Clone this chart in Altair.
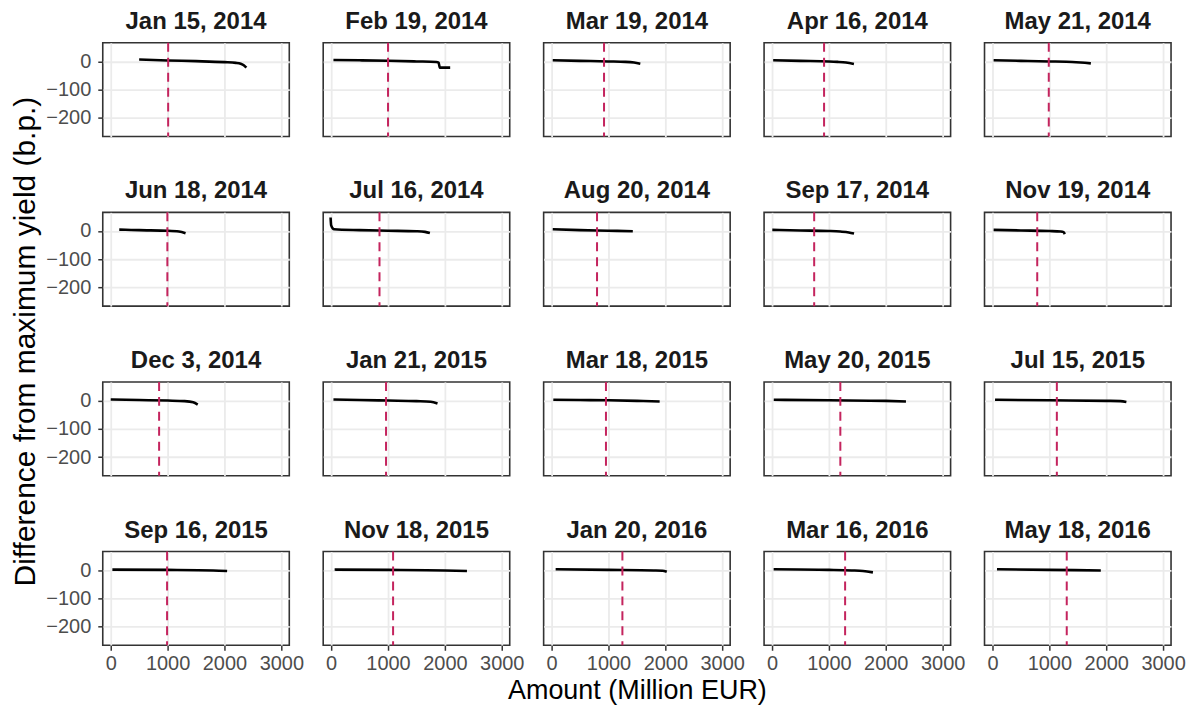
import altair as alt
import pandas as pd

dates = ["Jan 15, 2014", "Feb 19, 2014", "Mar 19, 2014", "Apr 16, 2014", "May 21, 2014",
         "Jun 18, 2014", "Jul 16, 2014", "Aug 20, 2014", "Sep 17, 2014", "Nov 19, 2014",
         "Dec 3, 2014", "Jan 21, 2015", "Mar 18, 2015", "May 20, 2015", "Jul 15, 2015",
         "Sep 16, 2015", "Nov 18, 2015", "Jan 20, 2016", "Mar 16, 2016", "May 18, 2016"]

# dashed reference amount per auction (Million EUR)
ref_amount = [1010, 1000, 922, 915, 990,
              996, 850, 799, 741, 787,
              851, 965, 956, 1201, 1132,
              991, 1089, 1245, 1285, 1306]

# amount (Million EUR) / difference from maximum yield (b.p.) per auction
p01_amount = [500, 1000, 1500, 2000, 2200, 2285, 2345, 2385]
p01_diff = [7, 3.5, 1, -2.5, -5, -8, -14, -22]
p02_amount = [40, 500, 1000, 1500, 1850, 1890, 1910, 2093]
p02_diff = [5, 4, 2.5, 0, -2, -4, -22, -22]
p03_amount = [20, 500, 1000, 1300, 1450, 1560]
p03_diff = [4, 2, 0, -1.5, -4, -8]
p04_amount = [20, 500, 1000, 1150, 1300, 1440]
p04_diff = [4, 2, 0, -1.5, -4, -9]
p05_amount = [20, 500, 1000, 1300, 1550, 1730]
p05_diff = [4, 2, 0, -1, -4, -7]
p06_amount = [150, 500, 1000, 1200, 1316]
p06_diff = [5, 3, 1, -2, -8]
p07_amount = [-10, 0, 50, 500, 1000, 1500, 1650, 1736]
p07_diff = [48, 20, 6, 3, 1, -1, -3, -7]
p08_amount = [20, 500, 1000, 1428]
p08_diff = [6, 3, 1, -1]
p09_amount = [5, 500, 1000, 1200, 1350, 1442]
p09_diff = [4, 2, 0, -2, -5, -9]
p10_amount = [20, 500, 1000, 1200, 1250, 1272]
p10_diff = [4, 2, 0, -2, -4, -11]
p11_amount = [0, 500, 1000, 1300, 1450, 1530]
p11_diff = [4, 2, 0, -2, -6, -14]
p12_amount = [40, 500, 1000, 1500, 1750, 1870]
p12_diff = [4, 2, 0, -2, -4, -10]
p13_amount = [30, 500, 1000, 1500, 1900]
p13_diff = [3, 2, 1, -1, -3]
p14_amount = [30, 1000, 2000, 2355]
p14_diff = [3, 1, -1, -3]
p15_amount = [45, 1000, 2000, 2250, 2355]
p15_diff = [3, 1, -1, -2, -5]
p16_amount = [29, 1000, 1800, 2047]
p16_diff = [2, 1, -1, -3]
p17_amount = [61, 1000, 2000, 2388]
p17_diff = [2, 1, -1, -3]
p18_amount = [71, 1000, 1800, 1950, 2025]
p18_diff = [3, 1, -1, -2, -6]
p19_amount = [28, 1000, 1400, 1600, 1774]
p19_diff = [3, 1, -1, -3, -8]
p20_amount = [79, 1000, 1905]
p20_diff = [3, 1, -1]

x_ticks = [0, 1000, 2000, 3000]
y_ticks = [-200, -100, 0]

amounts = [p01_amount, p02_amount, p03_amount, p04_amount, p05_amount,
           p06_amount, p07_amount, p08_amount, p09_amount, p10_amount,
           p11_amount, p12_amount, p13_amount, p14_amount, p15_amount,
           p16_amount, p17_amount, p18_amount, p19_amount, p20_amount]
diffs = [p01_diff, p02_diff, p03_diff, p04_diff, p05_diff,
         p06_diff, p07_diff, p08_diff, p09_diff, p10_diff,
         p11_diff, p12_diff, p13_diff, p14_diff, p15_diff,
         p16_diff, p17_diff, p18_diff, p19_diff, p20_diff]

FONT = "Liberation Sans"
X_DOMAIN = [-140, 3140]
Y_DOMAIN = [-266, 66]

panels = []
for i, d in enumerate(dates):
    r, c = divmod(i, 5)
    bottom = r == 3
    left = c == 0
    df = pd.DataFrame({"amount": amounts[i], "diff": diffs[i]})
    ref = pd.DataFrame({"amount": [ref_amount[i]]})

    xargs = dict(values=x_ticks, labels=bottom, ticks=bottom, domain=False, format="d",
                 grid=True, labelFontSize=20, labelColor="#4D4D4D", labelFont=FONT,
                 tickSize=5, tickWidth=1.5, tickColor="#333333", labelPadding=3,
                 gridColor="#EBEBEB", gridWidth=1.8)
    if bottom and c == 2:
        xargs.update(title="Amount (Million EUR)", titleFontSize=27, titleFont=FONT,
                     titleFontWeight="normal", titleColor="#000000",
                     titleY=53, titleBaseline="alphabetic")
    else:
        xargs.update(title=None)

    yargs = dict(values=y_ticks, labels=left, ticks=left, domain=False, format="d",
                 grid=True, labelFontSize=20, labelColor="#4D4D4D", labelFont=FONT,
                 tickSize=5, tickWidth=1.5, tickColor="#333333", labelPadding=7,
                 gridColor="#EBEBEB", gridWidth=1.8, title=None)

    xs = alt.Scale(domain=X_DOMAIN, nice=False, zero=False)
    ys = alt.Scale(domain=Y_DOMAIN, nice=False, zero=False)

    line = alt.Chart(df).mark_line(color="black", strokeWidth=2.6, interpolate="monotone").encode(
        x=alt.X("amount:Q", scale=xs, axis=alt.Axis(**xargs)),
        y=alt.Y("diff:Q", scale=ys, axis=alt.Axis(**yargs)),
    )
    rule = alt.Chart(ref).mark_rule(color="#C4245E", strokeWidth=2, strokeDash=[9, 6]).encode(
        x=alt.X("amount:Q", scale=xs),
    )
    panel = alt.layer(line, rule).properties(
        width=187, height=94,
        title=alt.TitleParams(text=d, fontSize=24, fontWeight="bold", font=FONT,
                              color="#1A1A1A", anchor="middle", offset=8),
    )
    panels.append(panel)

chart = alt.concat(*panels, columns=5, spacing={"row": 76, "column": 34}, bounds="flush").properties(
    padding={"left": 3, "top": 0, "right": 0, "bottom": 0},
    title=alt.TitleParams(text="Difference from maximum yield (b.p.)", orient="left",
                          anchor="middle", frame="bounds", fontSize=30, fontWeight="normal",
                          font=FONT, color="#000000", offset=4, dx=15),
).configure(
    background="white"
).configure_view(
    stroke="#333333", strokeWidth=1.6
)

chart.save("out.html", embed_options={"renderer": "svg", "actions": False})
